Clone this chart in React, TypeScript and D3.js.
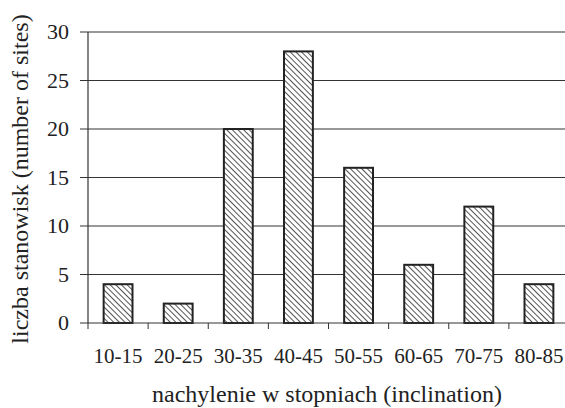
import React from "react";
import * as d3 from "d3";

const categories = ["10-15", "20-25", "30-35", "40-45", "50-55", "60-65", "70-75", "80-85"];
const values = [4, 2, 20, 28, 16, 6, 12, 4];
const yTicks = [0, 5, 10, 15, 20, 25, 30];
const xTitle = "nachylenie w stopniach (inclination)";
const yTitle = "liczba stanowisk (number of sites)";

export default function App() {
  const W = 565, H = 408;
  const left = 88, right = 569, top = 32, bottom = 323;
  const x = d3.scaleBand<string>().domain(categories).range([left, right]).paddingInner(0).paddingOuter(0);
  const y = d3.scaleLinear().domain([0, 30]).range([bottom, top]);
  const bw = x.bandwidth() * 0.48;
  const ts = { fontFamily: "Liberation Serif, Times New Roman, Times, serif" };
  return (
    <svg width={W} height={H} style={{ position: "absolute", left: 0, top: 0, background: "#fff" }}>
      <defs>
        <pattern id="hatch" patternUnits="userSpaceOnUse" width={4} height={4} patternTransform="rotate(-45)">
          <rect width={4} height={4} fill="#fff" />
          <line x1={0} y1={0} x2={0} y2={4} stroke="#555" strokeWidth={2} />
        </pattern>
      </defs>
      {yTicks.filter(t => t !== 0 && t !== 30).map(t => (
        <line key={t} x1={left} x2={W} y1={y(t)} y2={y(t)} stroke="#333" strokeWidth={1} />
      ))}
      <line x1={left} x2={W} y1={y(30)} y2={y(30)} stroke="#999" strokeWidth={2} />
      {categories.map((c, i) => {
        const cx = x(c)! + x.bandwidth() / 2;
        return (
          <rect key={c} x={cx - bw / 2} y={y(values[i])} width={bw} height={y(0) - y(values[i])}
            fill="url(#hatch)" stroke="#222" strokeWidth={2} />
        );
      })}
      <line x1={left} x2={left} y1={top} y2={bottom} stroke="#333" strokeWidth={1.2} />
      <line x1={left} x2={W} y1={bottom} y2={bottom} stroke="#333" strokeWidth={1.2} />
      {yTicks.map(t => (
        <g key={t}>
          <line x1={left - 8} x2={left} y1={y(t)} y2={y(t)} stroke="#333" strokeWidth={1} />
          <text x={69} y={y(t)} dy="0.34em" textAnchor="end" style={ts} fontSize={22} fill="#222">{t}</text>
        </g>
      ))}
      {categories.map(c => (
        <line key={c} x1={x(c)!} x2={x(c)!} y1={bottom} y2={bottom + 6} stroke="#333" strokeWidth={1} />
      ))}
      {categories.map(c => (
        <text key={c} x={x(c)! + x.bandwidth() / 2} y={363} textAnchor="middle" style={ts} fontSize={21} fill="#222">{c}</text>
      ))}
      <text x={327} y={402} textAnchor="middle" style={ts} fontSize={24} fill="#222">{xTitle}</text>
      <text transform={`translate(28,179) rotate(-90)`} textAnchor="middle" style={ts} fontSize={24} fill="#222">{yTitle}</text>
    </svg>
  );
}
